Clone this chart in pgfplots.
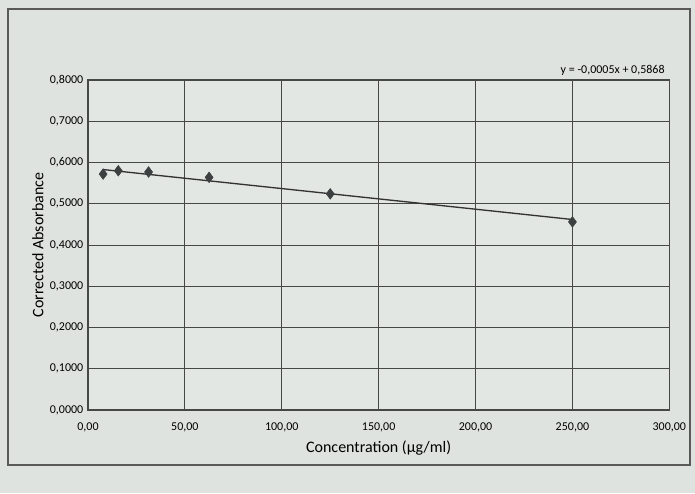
\documentclass[border=0pt]{standalone}
\usepackage{pgfplots}
\pgfplotsset{compat=1.18}
\usepackage{fontspec}
\setmainfont{Carlito}
\definecolor{bg}{RGB}{222,227,224}
\definecolor{pa}{RGB}{226,231,228}
\definecolor{gridc}{RGB}{70,72,72}
\definecolor{mk}{RGB}{60,64,64}
\begin{document}
\begin{tikzpicture}
\fill[bg] (0pt,0pt) rectangle (521.25pt,369.75pt);
\draw[gray!70!black, line width=0.8pt] (6pt,21pt) rectangle (517.5pt,363pt);
\begin{axis}[
  at={(66pt,62.25pt)}, anchor=south west,
  width=436pt, height=247.5pt, scale only axis,
  xmin=0, xmax=300, ymin=0, ymax=0.8,
  xtick={0,50,...,300}, ytick={0,0.1,...,0.8},
  axis background/.style={fill=pa},
  grid=major, major grid style={gridc, line width=0.7pt},
  axis line style={gridc, line width=0.8pt},
  tick style={draw=none},
  /pgf/number format/assume math mode=true,
  xticklabel style={font=\small, yshift=-6pt, /pgf/number format/.cd, fixed, fixed zerofill, precision=2, use comma, 1000 sep={}},
  yticklabel style={font=\small, /pgf/number format/.cd, fixed, fixed zerofill, precision=4, use comma},
  xlabel={Concentration (µg/ml)}, ylabel={Corrected Absorbance},
  label style={font=\large},
  ylabel style={yshift=-2pt},
  clip=false,
]
\addplot[black!80, line width=1pt, mark=none] coordinates {(7.8125,0.5829) (250,0.4618)};
\addplot[only marks, mark=diamond*, mark size=4pt, mark options={fill=mk, draw=mk}] coordinates {
(7.8125,0.572) (15.625,0.580) (31.25,0.577) (62.5,0.564) (125,0.524) (250,0.456)};
\node[anchor=south east, font=\small] at (axis cs:300,0.8) {y = -0,0005x + 0,5868};
\end{axis}
\end{tikzpicture}
\end{document}
